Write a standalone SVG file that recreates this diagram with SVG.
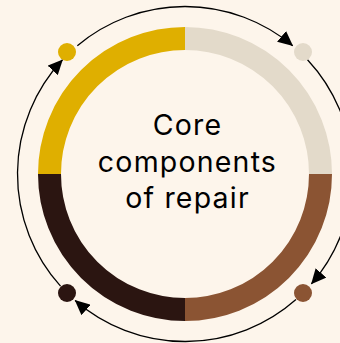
<svg xmlns="http://www.w3.org/2000/svg" width="340" height="343" viewBox="0 0 340 343">
<style>
.seg{fill:none;stroke-width:23}
.conn{fill:none;stroke:#000;stroke-width:1.3}
.lbl{font-family:Inter,"Open Sans","Liberation Sans",sans-serif;font-size:28.5px;letter-spacing:1.2px;fill:#000;text-anchor:middle}
</style>
<defs>
<marker id="ah" markerUnits="userSpaceOnUse" markerWidth="15" markerHeight="14" viewBox="0 0 15 14" refX="14.5" refY="7" orient="auto">
<path d="M0,0 L15,7 L0,14 z" fill="#000"/>
</marker>
</defs>
<rect width="340" height="343" fill="#FDF5EB"/>
<g id="ring">
<path class="seg" stroke="#DFAF00" d="M49.5,174 A135.5,135.5 0 0 1 185,38.5"/>
<path class="seg" stroke="#E3DACA" d="M185,38.5 A135.5,135.5 0 0 1 320.5,174"/>
<path class="seg" stroke="#8B5433" d="M320.5,174 A135.5,135.5 0 0 1 185,309.5"/>
<path class="seg" stroke="#2B1511" d="M185,309.5 A135.5,135.5 0 0 1 49.5,174"/>
</g>
<g id="connectors">
<path class="conn" marker-end="url(#ah)" d="M77.33,45.69 A167.5,167.5 0 0 1 292.67,45.69"/>
<path class="conn" marker-end="url(#ah)" d="M307.5,59.77 A167.5,167.5 0 0 1 311.41,283.89"/>
<path class="conn" marker-end="url(#ah)" d="M295.98,299.46 A167.5,167.5 0 0 1 75.11,300.41"/>
<path class="conn" marker-end="url(#ah)" d="M60.53,286.08 A167.5,167.5 0 0 1 62.5,59.77"/>
</g>
<g id="node-1"><circle cx="67" cy="52" r="9" fill="#DFAF00"/></g>
<g id="node-2"><circle cx="303" cy="52" r="9" fill="#E3DACA"/></g>
<g id="node-3"><circle cx="303" cy="293" r="9" fill="#8B5433"/></g>
<g id="node-4"><circle cx="67" cy="293" r="9" fill="#2B1511"/></g>
<g id="center">
<text class="lbl" x="187.5" y="135">Core</text>
<text class="lbl" x="187.5" y="171.5">components</text>
<text class="lbl" x="187.5" y="208">of repair</text>
</g>
</svg>
